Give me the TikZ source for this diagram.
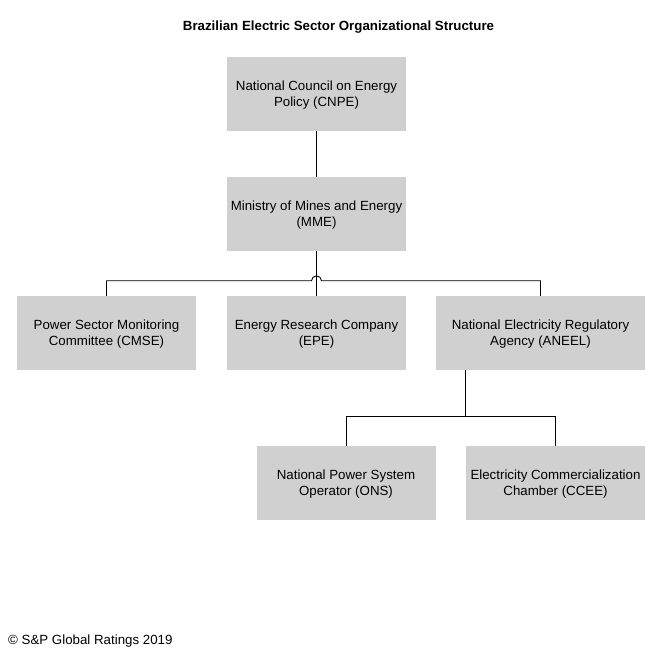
\documentclass[tikz,border=0pt]{standalone}
\usepackage{fontspec}
\setmainfont{Liberation Sans}
\usetikzlibrary{calc}
\definecolor{boxgray}{RGB}{208,208,208}

\begin{document}
\begin{tikzpicture}[x=1pt, y=1pt, every node/.style={font=\fontsize{13.3}{16}\selectfont},
  orgbox/.style={fill=boxgray, minimum width=179, minimum height=74, align=center, inner sep=0pt, text depth=0pt},
  link/.style={line width=0.9pt}]
  \useasboundingbox (0,0) rectangle (652,655);
  \node[font=\fontsize{13.3}{16}\selectfont\bfseries] (title) at (338.5,627.5) {Brazilian Electric Sector Organizational Structure};
  \node[orgbox] (cnpe) at (316.5,561) {National Council on Energy\\Policy (CNPE)};
  \node[orgbox] (mme) at (316.5,441) {Ministry of Mines and Energy\\(MME)};
  \node[orgbox] (cmse) at (106.5,322) {Power Sector Monitoring\\Committee (CMSE)};
  \node[orgbox] (epe) at (316.5,322) {Energy Research Company\\(EPE)};
  \node[orgbox, minimum width=209] (aneel) at (540.5,322) {National Electricity Regulatory\\Agency (ANEEL)};
  \node[orgbox] (ons) at (346,172) {National Power System\\Operator (ONS)};
  \node[orgbox] (ccee) at (555.5,172) {Electricity Commercialization\\Chamber (CCEE)};
  \node[anchor=base west, inner sep=0pt] (copy) at (8,10.5) {\textcopyright{} S\&P Global Ratings 2019};
  % connectors
  \draw[link] (cnpe) -- (mme);
  \draw[link] (mme) -- (epe);
  \draw[link] (cmse.north) -- ++(0,15) -- ($(epe.north)+(-5,15)$)
    arc[start angle=180, end angle=0, radius=5] -| (aneel.north);
  \coordinate (split) at ($(aneel.south west)+(30,-46)$);
  \draw[link] ($(aneel.south west)+(30,0)$) -- (split);
  \draw[link] (ons.north) |- (split) -| (ccee.north);
\end{tikzpicture}
\end{document}
